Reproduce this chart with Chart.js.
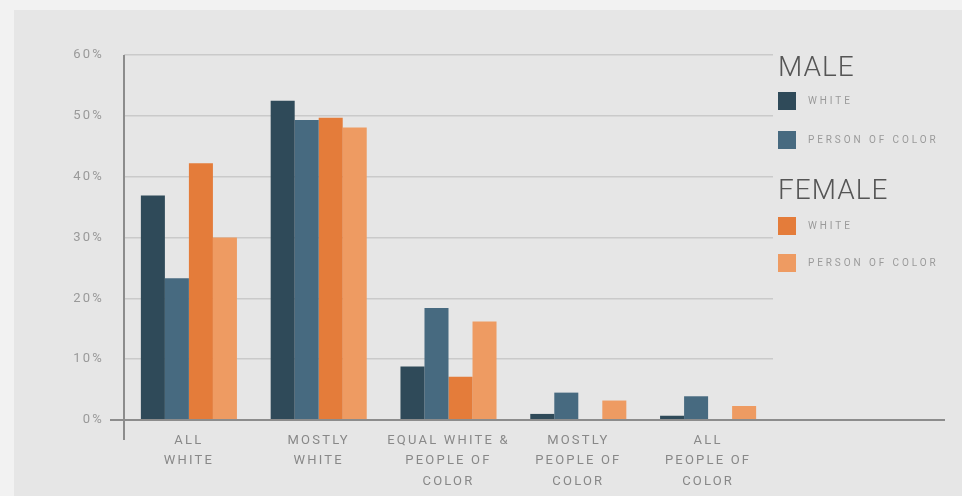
<!DOCTYPE html>
<html>
<head>
<meta charset="utf-8">
<script src="https://cdn.jsdelivr.net/npm/chart.js@4.4.1/dist/chart.umd.min.js"></script>
<style>
  html, body { margin:0; padding:0; width:962px; height:496px; overflow:hidden; background:#f2f2f2; }
  #frame { position:absolute; left:14px; top:10px; width:948px; height:486px; background:#e6e6e6; }
  #wrap { position:absolute; left:0; top:0; width:962px; height:496px; }
  #legend { position:absolute; left:778px; top:0; font-family:Roboto, "DejaVu Sans", sans-serif; }
  .hdr { position:absolute; left:0; font-size:28px; font-weight:300; color:#555; letter-spacing:1px; white-space:nowrap; line-height:28px; }
  .item { position:absolute; left:0; white-space:nowrap; height:18px; }
  .sw { position:absolute; left:0; top:0; width:18px; height:18px; }
  .lbl { position:absolute; left:30px; top:3px; font-size:10px; color:#9a9a9a; letter-spacing:2.9px; line-height:12px; }
</style>
</head>
<body>
<div id="frame"></div>
<div id="wrap"><canvas id="c" width="962" height="496"></canvas></div>
<div id="legend"></div>
<script>
const categories = [['ALL','WHITE'], ['MOSTLY','WHITE'], ['EQUAL WHITE &','PEOPLE OF','COLOR'], ['MOSTLY','PEOPLE OF','COLOR'], ['ALL','PEOPLE OF','COLOR']];
const maleWhite = [36.9, 52.5, 8.8, 1.0, 0.7];
const malePersonOfColor = [23.3, 49.3, 18.4, 4.5, 3.9];
const femaleWhite = [42.2, 49.7, 7.1, 0, 0];
const femalePersonOfColor = [30.0, 48.1, 16.2, 3.2, 2.3];
const yTicks = ['0%','10%','20%','30%','40%','50%','60%'];
const legendGroups = [
  { title: 'MALE', items: [['WHITE', '#2f4a59'], ['PERSON OF COLOR', '#476a80']] },
  { title: 'FEMALE', items: [['WHITE', '#e47c3a'], ['PERSON OF COLOR', '#ee9b62']] }
];
const colors = ['#2f4a59', '#476a80', '#e47c3a', '#ee9b62'];

// legend (HTML)
const lg = document.getElementById('legend');
const hdrTops = [53, 176];
const itemTops = [[92, 131], [217, 254]];
legendGroups.forEach((g, gi) => {
  const h = document.createElement('div');
  h.className = 'hdr'; h.style.top = hdrTops[gi] + 'px'; h.textContent = g.title;
  lg.appendChild(h);
  g.items.forEach((it, ii) => {
    const d = document.createElement('div');
    d.className = 'item'; d.style.top = itemTops[gi][ii] + 'px';
    d.innerHTML = '<div class="sw" style="background:' + it[1] + '"></div><div class="lbl">' + it[0] + '</div>';
    lg.appendChild(d);
  });
});

const spacingPlugin = {
  id: 'spacing',
  beforeLayout(chart) { chart.ctx.letterSpacing = '2.2px'; },
  beforeDraw(chart) { chart.ctx.letterSpacing = '2.2px'; }
};
const axisPlugin = {
  id: 'axes',
  afterDraw(chart) {
    const ctx = chart.ctx, a = chart.chartArea;
    const y0 = chart.scales.y.getPixelForValue(0);
    ctx.save();
    ctx.strokeStyle = '#8c8c8c';
    ctx.lineWidth = 2;
    ctx.beginPath();
    ctx.moveTo(110, y0); ctx.lineTo(945, y0);
    ctx.moveTo(a.left, a.top); ctx.lineTo(a.left, y0 + 20);
    ctx.stroke();
    ctx.restore();
  }
};

new Chart(document.getElementById('c'), {
  type: 'bar',
  data: {
    labels: categories,
    datasets: [
      { label: 'Male White', data: maleWhite, backgroundColor: colors[0] },
      { label: 'Male Person of Color', data: malePersonOfColor, backgroundColor: colors[1] },
      { label: 'Female White', data: femaleWhite, backgroundColor: colors[2] },
      { label: 'Female Person of Color', data: femalePersonOfColor, backgroundColor: colors[3] }
    ]
  },
  options: {
    responsive: false,
    animation: false,
    devicePixelRatio: 1,
    layout: { padding: { left: 0, top: 55, right: 189, bottom: 0 } },
    datasets: { bar: { categoryPercentage: 0.74, barPercentage: 1.0 } },
    plugins: { legend: { display: false }, tooltip: { enabled: false } },
    scales: {
      x: {
        grid: { display: false },
        border: { display: false },
        ticks: { color: '#888', font: { family: 'Roboto', size: 13, weight: 400, lineHeight: 1.55 }, padding: 3, maxRotation: 0, autoSkip: false },
        afterFit(s) { s.height = 76; }
      },
      y: {
        min: 0, max: 60,
        grid: { color: 'rgba(150,150,150,0.35)', lineWidth: 1.5, drawTicks: false },
        border: { display: false },
        ticks: { stepSize: 10, color: '#999', font: { family: 'Roboto', size: 13, weight: 400 }, padding: 20,
                 callback: (v, i) => yTicks[i] },
        afterFit(s) { s.width = 124; }
      }
    }
  },
  plugins: [spacingPlugin, axisPlugin]
});
</script>
</body>
</html>
